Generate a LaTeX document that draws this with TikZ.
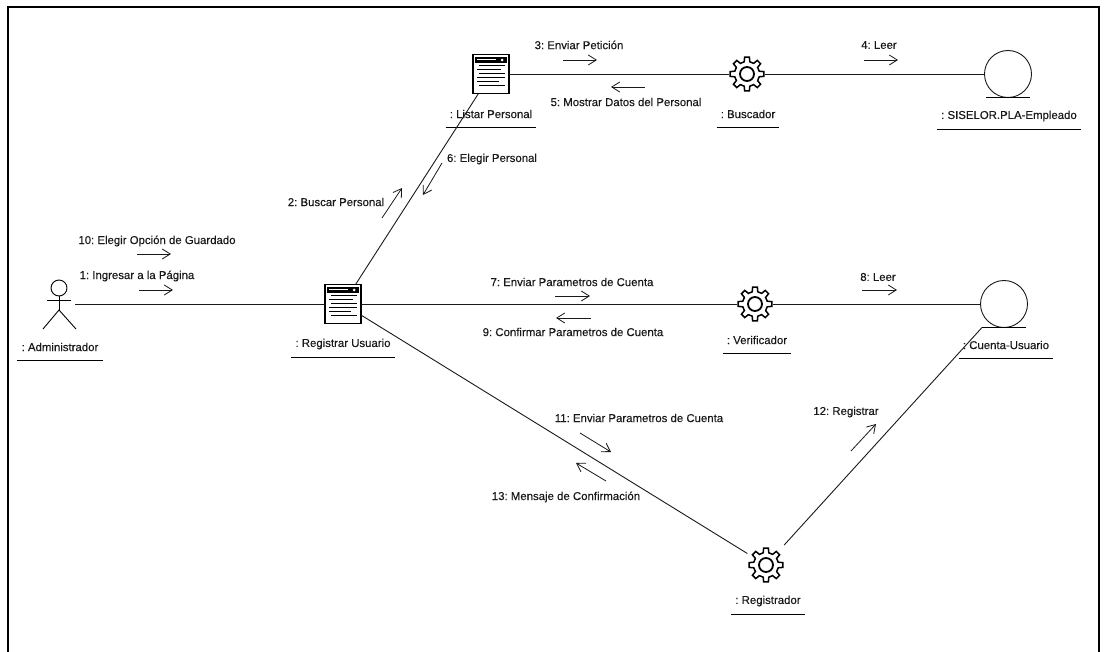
\documentclass[tikz,border=0pt]{standalone}
\usepackage{fontspec}
\setmainfont{Liberation Sans}[FakeBold=0.25]
\usetikzlibrary{arrows.meta}
\definecolor{scanblack}{RGB}{25,25,25}
\tikzset{
	msgtext/.style={font=\fontsize{11.4}{13}\selectfont\frenchspacing,text=scanblack,inner sep=0pt},
	objname/.style={msgtext,inner xsep=4pt,minimum height=26pt},
	msgarrow/.style={-{Straight Barb[length=8pt,width=10pt]},draw=scanblack,line width=0.8pt},
	link/.style={draw=scanblack,line width=0.9pt},
	window/.style={draw=black,fill=white,line width=1.4pt,minimum width=36pt,minimum height=39pt,inner sep=0pt,outer sep=0pt},
	gearnode/.style={circle,minimum size=36pt,inner sep=0pt,outer sep=0pt},
	entity/.style={circle,draw=scanblack,line width=0.9pt,minimum size=47pt,inner sep=0pt,outer sep=0pt},
	actor/.style={minimum width=32pt,minimum height=50pt,inner sep=0pt,outer sep=0pt},
	windowicon/.pic={
		\fill[black] (-16,-17) rectangle (16,-11);
		\fill[white] (-14,-15) rectangle (5,-13.5);
		\fill[white] (11,-14) circle (1.5);
		\foreach \y/\a/\b in {-8/-12/14,-4/-14/10,0/-12/14,4/-14/14,8/-14/8,12/-12/14}
			\draw[line width=1pt] (\a,\y) -- (\b,\y);
	},
	gearicon/.pic={
		\foreach \a in {0,45,...,315}
			\draw[line width=1.5pt,line cap=round] (\a-13:12.5) -- (\a-8:17) -- (\a+8:17) -- (\a+13:12.5) -- (\a+32:12.5);
		\draw[line width=1.8pt] (0,0) circle (7);
	}
}
\begin{document}
\begin{tikzpicture}[x=1pt,y=-1pt]
	\useasboundingbox (0,0) rectangle (1106,652);
	\draw[line width=1.5pt] (8,652) -- (8,7) -- (1099,7) -- (1099,652);

	% objects
	\node[actor] (administrador) at (59,304) {};
	\node[window] (registrar) at (343,304) {};
	\node[window] (listar) at (491,74) {};
	\node[gearnode] (buscador) at (747,74) {};
	\node[gearnode] (verificador) at (755,304) {};
	\node[gearnode] (registrador) at (766,565) {};
	\node[entity] (empleado) at (1008,74) {};
	\node[entity] (cuenta) at (1004,304) {};
	\pic at (registrar) {windowicon};
	\pic at (listar) {windowicon};
	\pic at (buscador) {gearicon};
	\pic at (verificador) {gearicon};
	\pic at (registrador) {gearicon};

	% stick figure
	\draw[line width=0.9pt] (59,288) circle (8);
	\draw[line width=0.9pt] (59,296) -- (59,310) (47,300) -- (71,300);
	\draw[line width=0.9pt] (43,329) -- (59,310) -- (76,329);

	% object names
	\foreach \n/\x/\y/\t in {administrador/60/347/: Administrador,registrar/343/344/: Registrar Usuario,
		listar/491/114/: Listar Personal,buscador/748/114/: Buscador,empleado/1009/116/: SISELOR.PLA-Empleado,
		verificador/757/340/: Verificador,cuenta/1006/345/: Cuenta-Usuario,registrador/768/601/: Registrador}
		\node[objname] (\n name) at (\x,\y) {\t};
	\foreach \n in {administrador,registrar,listar,buscador,empleado,verificador,cuenta,registrador}
		\draw[line width=0.9pt] (\n name.south west) -- (\n name.south east);

	% entity feet
	\foreach \n in {empleado,cuenta}
		\draw[line width=0.9pt] ([xshift=-22pt]\n.south) -- ([xshift=22pt]\n.south);
	\coordinate (cuentapie) at ([xshift=-22pt]cuenta.south);

	% links
	\draw[link] (administrador) -- (registrar);
	\draw[link] (registrar) -- (listar);
	\draw[link] (listar) -- (buscador);
	\draw[link] (buscador) -- (empleado);
	\draw[link] (registrar) -- (verificador);
	\draw[link] (verificador) -- (cuenta);
	\draw[link,shorten >=4pt] (registrar) -- (registrador);
	\draw[link,shorten <=9pt] (registrador) -- (cuentapie);

	% messages
	\foreach \n/\x/\y/\t in {1/137/276/1: Ingresar a la Página,2/336/202/2: Buscar Personal,
		3/579/45/3: Enviar Petición,4/879/45/4: Leer,5/626/102/5: Mostrar Datos del Personal,
		6/492/159/6: Elegir Personal,7/572/282/7: Enviar Parametros de Cuenta,8/878/277/8: Leer,
		9/573/332/9: Confirmar Parametros de Cuenta,10/157/241/10: Elegir Opción de Guardado,
		11/639/418/11: Enviar Parametros de Cuenta,12/846/412/12: Registrar,13/566/497/13: Mensaje de Confirmación}
		\node[msgtext] (msg\n) at (\x,\y) {\t};
	\foreach \n/\ax/\ay/\bx/\by in {1/139/290/173/290,2/382/218/402/188,3/563/60/597/60,4/864/60/898/60,
		5/645/87/611/87,6/442/163/423/195,7/555/296/590/296,8/862/290/897/290,9/591/318/556/318,
		10/137/254/171/254,11/580/433/611/452,12/851/451/876/424,13/606/481/576/463} {
		\coordinate (arrow\n a) at (\ax,\ay);
		\coordinate (arrow\n b) at (\bx,\by);
		\draw[msgarrow] (arrow\n a) -- (arrow\n b);
	}
\end{tikzpicture}
\end{document}
